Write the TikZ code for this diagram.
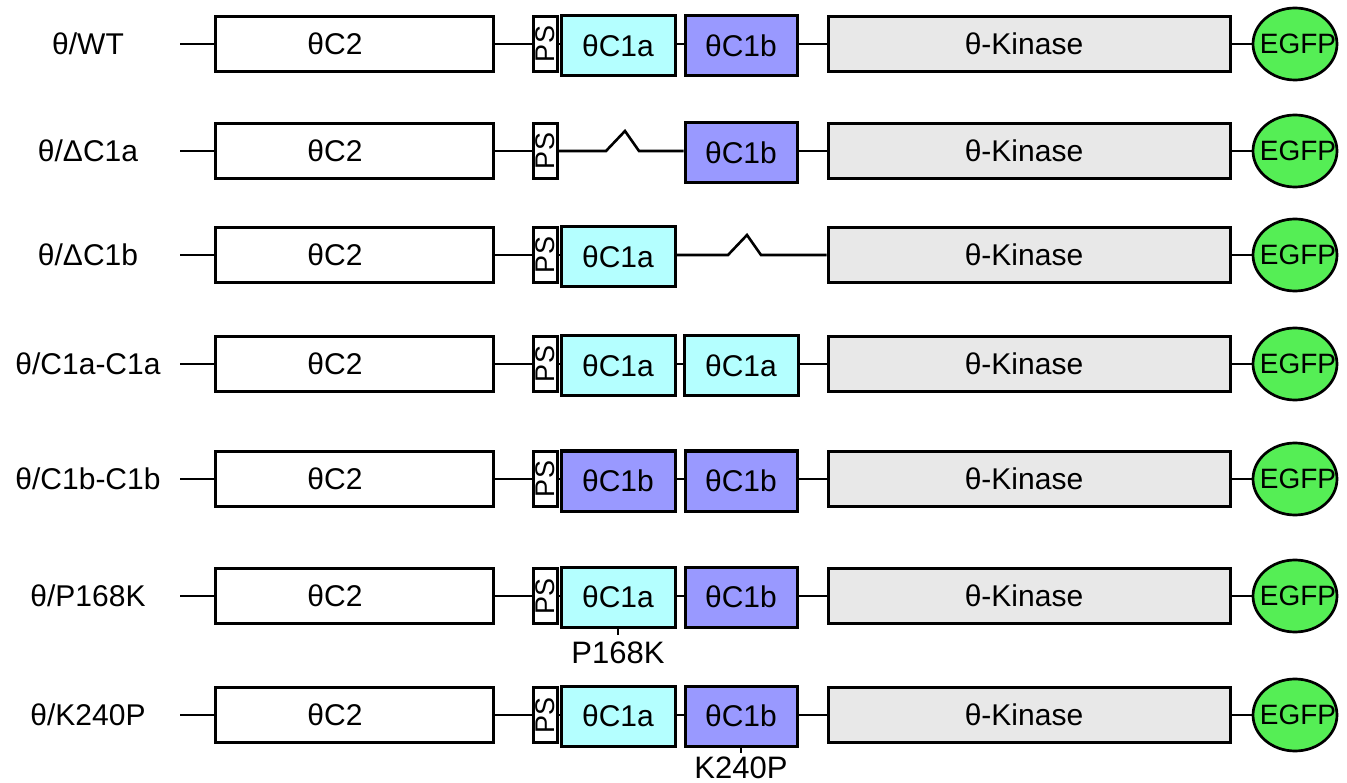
\documentclass[tikz,border=0pt]{standalone}
\usepackage{fontspec}
\setmainfont{Liberation Sans}
\usetikzlibrary{shapes.geometric}
\definecolor{cyafill}{RGB}{180,255,255}
\definecolor{blufill}{RGB}{153,153,255}
\definecolor{kinfill}{RGB}{232,232,232}
\definecolor{gfpfill}{RGB}{85,238,85}
\tikzset{
  txt/.style={font=\fontsize{30}{30}\selectfont, inner sep=0pt},
  box/.style={draw, line width=3pt, minimum height=55pt, inner sep=0pt, txt},
  c2box/.style={box, fill=white, minimum width=278pt},
  psbox/.style={box, fill=white, minimum width=24pt},
  c1abox/.style={box, fill=cyafill, minimum width=114pt, minimum height=60pt},
  c1bbox/.style={box, fill=blufill, minimum width=112pt, minimum height=60pt},
  kinbox/.style={box, fill=kinfill, minimum width=402pt},
  egfpnode/.style={draw, ellipse, line width=2.7pt, fill=gfpfill, minimum width=84pt, minimum height=72pt, inner sep=0pt},
  egfptxt/.style={font=\fontsize{28}{28}\selectfont, inner sep=0pt, xshift=3pt},
  link/.style={line width=2.6pt},
  mutlbl/.style={font=\fontsize{31}{31}\selectfont, inner sep=0pt},
}
\newcommand\backbone[3]{%
  \node[txt] (#1lab) at (88,#2) {#3};
  \coordinate (#1tail) at (180,#2);
  \node[c2box, label={[txt,xshift=-19pt]center:θC2}] (#1c2) at (354,#2) {};
  \node[psbox] (#1ps) at (545,#2) {\rotatebox{90}{\fontsize{27}{27}\selectfont PS}};
  \node[kinbox, label={[txt,xshift=-5pt]center:θ-Kinase}] (#1kin) at (1029,#2) {};
  \node[egfpnode, label={[egfptxt]center:EGFP}] (#1gfp) at (1295,#2) {};
  \draw[link] (#1tail) -- (#1c2.west);
  \draw[link] (#1c2.east) -- (#1ps.west);
  \draw[link] (#1kin.east) -- (#1gfp.west);
}
\begin{document}
\begin{tikzpicture}[x=1pt, y=-1pt]
\useasboundingbox (0,0) rectangle (1347,783);
% Row 1: WT
\backbone{ra}{44}{θ/WT}
\node[c1abox] (rac1a) at (618,46) {θC1a};
\node[c1bbox] (rac1b) at (741,46) {θC1b};
\draw[link] (raps.east) -- (raps.east -| rac1a.west);
\draw[link] (raps.east -| rac1a.east) -- (raps.east -| rac1b.west);
\draw[link] (raps.east -| rac1b.east) -- (rakin.west);
% Row 2: dC1a
\backbone{rb}{151}{θ/ΔC1a}
\node[c1bbox] (rbc1b) at (741,153) {θC1b};
\draw[link] (rbps.east) -- (606,151) -- ++(19,-20) -- ++(14,20) -- (rbps.east -| rbc1b.west);
\draw[link] (rbps.east -| rbc1b.east) -- (rbkin.west);
% Row 3: dC1b
\backbone{rc}{255}{θ/ΔC1b}
\node[c1abox] (rcc1a) at (618,257) {θC1a};
\draw[link] (rcps.east) -- (rcps.east -| rcc1a.west);
\draw[link] (rcps.east -| rcc1a.east) -- (728,255) -- ++(19,-20) -- ++(14,20) -- (rckin.west);
% Row 4: C1a-C1a
\backbone{rd}{364}{θ/C1a-C1a}
\node[c1abox] (rdc1a) at (618,366) {θC1a};
\node[c1abox] (rdc1x) at (741,366) {θC1a};
\draw[link] (rdps.east) -- (rdps.east -| rdc1a.west);
\draw[link] (rdps.east -| rdc1a.east) -- (rdps.east -| rdc1x.west);
\draw[link] (rdps.east -| rdc1x.east) -- (rdkin.west);
% Row 5: C1b-C1b
\backbone{re}{479}{θ/C1b-C1b}
\node[c1bbox, minimum width=114pt] (rec1b) at (618,481) {θC1b};
\node[c1bbox] (rec1x) at (741,481) {θC1b};
\draw[link] (reps.east) -- (reps.east -| rec1b.west);
\draw[link] (reps.east -| rec1b.east) -- (reps.east -| rec1x.west);
\draw[link] (reps.east -| rec1x.east) -- (rekin.west);
% Row 6: P168K
\backbone{rf}{596}{θ/P168K}
\node[c1abox] (rfc1a) at (618,597) {θC1a};
\node[c1bbox] (rfc1b) at (741,597) {θC1b};
\draw[link] (rfps.east) -- (rfps.east -| rfc1a.west);
\draw[link] (rfps.east -| rfc1a.east) -- (rfps.east -| rfc1b.west);
\draw[link] (rfps.east -| rfc1b.east) -- (rfkin.west);
\coordinate (tickp) at ([yshift=-6pt]rfc1a.south);
\draw[link] (rfc1a.south) -- (tickp);
\node[mutlbl] (mutp) at (618,653) {P168K};
% Row 7: K240P
\backbone{rg}{715}{θ/K240P}
\node[c1abox] (rgc1a) at (618,716) {θC1a};
\node[c1bbox] (rgc1b) at (741,716) {θC1b};
\draw[link] (rgps.east) -- (rgps.east -| rgc1a.west);
\draw[link] (rgps.east -| rgc1a.east) -- (rgps.east -| rgc1b.west);
\draw[link] (rgps.east -| rgc1b.east) -- (rgkin.west);
\coordinate (tickk) at ([yshift=-5pt]rgc1b.south);
\draw[link] (rgc1b.south) -- (tickk);
\node[mutlbl] (mutk) at (741,768) {K240P};
\end{tikzpicture}
\end{document}
